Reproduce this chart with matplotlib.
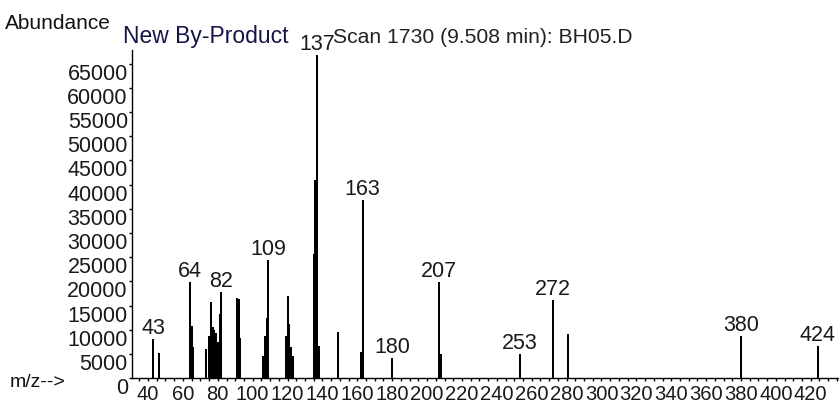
import matplotlib
matplotlib.use("Agg")
import matplotlib.pyplot as plt
from matplotlib.ticker import MultipleLocator

plt.rcParams['font.family'] = ['Liberation Sans', 'DejaVu Sans']

# mass spectrum
mz = [43, 46, 64, 65, 66, 73, 75, 76, 77, 78, 79, 80, 81, 82,
      91, 92, 93, 106, 107, 108, 109, 119, 120, 121, 122, 123,
      135, 136, 137, 138, 149, 162, 163, 180, 207, 208, 253, 272,
      281, 380, 424]
abundance = [8060, 5200, 19960, 10900, 6400, 6000, 8740, 15800, 10500,
             10000, 9300, 7560, 13300, 17900,
             16650, 16300, 8400, 4600, 8740, 12500, 24440,
             8740, 17070, 11200, 6400, 4600,
             25700, 41000, 66800, 6700, 9630, 5500, 36840, 4260,
             19960, 5020, 5020, 16180, 9150, 8740, 6680]
labelled = [43, 64, 82, 109, 137, 163, 180, 207, 253, 272, 380, 424]

xticks = list(range(40, 421, 20))
yticks = list(range(0, 65001, 5000))

fig = plt.figure(figsize=(8.39, 4.08), dpi=100)
ax = fig.add_axes([132 / 839, 29.7 / 408, 1 - 132 / 839, 328.3 / 408])

ax.vlines(mz, 0, abundance, color='black', linewidth=1.3, antialiased=False)

for m in labelled:
    a = abundance[mz.index(m)]
    ax.annotate(str(m), (m, a), xytext=(0, 3.6), textcoords='offset points',
                ha='center', va='baseline', fontsize=15.5, color='#1a1a1a',
                annotation_clip=False)

ax.set_xlim(30.8, 436.2)
ax.set_ylim(0, 67830)
for s in ['top', 'right']:
    ax.spines[s].set_visible(False)
for s in ['left', 'bottom']:
    ax.spines[s].set_linewidth(1.0)

ax.set_xticks(xticks)
ax.set_xticklabels([str(t) for t in xticks], fontsize=14.5, color='#1a1a1a')
ax.xaxis.set_minor_locator(MultipleLocator(5))
ax.tick_params(axis='x', which='both', length=2.5, width=1, pad=2)
for lbl in ax.get_xticklabels():
    lbl.set_bbox(dict(facecolor='white', edgecolor='none', pad=0))

ax.set_yticks(yticks)
ax.set_yticklabels([str(t) for t in yticks], fontsize=15.5, color='#1a1a1a')
ax.tick_params(axis='y', length=2, width=1, pad=1)
for lbl in ax.get_yticklabels():
    lbl.set_va('top')

fig.text(5 / 839, 1 - 29 / 408, 'Abundance', fontsize=15, va='baseline',
         color='#111111')
fig.text(123 / 839, 1 - 43 / 408, 'New By-Product', fontsize=16.5,
         va='baseline', color='#15154a')
fig.text(333 / 839, 1 - 43 / 408, 'Scan 1730 (9.508 min): BH05.D',
         fontsize=15.2, va='baseline', color='#222222')
fig.text(10 / 839, 1 - 387 / 408, 'm/z-->', fontsize=14, va='baseline',
         color='#111111')

fig.savefig('out.png', dpi=100)
